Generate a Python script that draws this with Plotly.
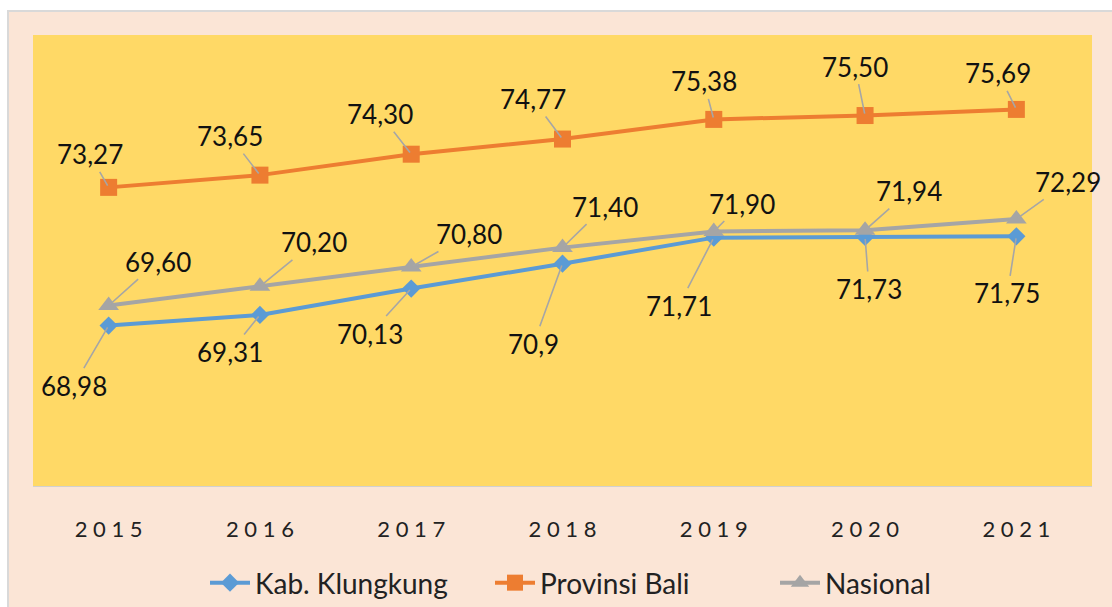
import plotly.graph_objects as go

years = ["2015", "2016", "2017", "2018", "2019", "2020", "2021"]
klungkung = [68.98, 69.31, 70.13, 70.9, 71.71, 71.73, 71.75]
bali = [73.27, 73.65, 74.30, 74.77, 75.38, 75.50, 75.69]
nasional = [69.60, 70.20, 70.80, 71.40, 71.90, 71.94, 72.29]

klungkung_labels = ["68,98", "69,31", "70,13", "70,9", "71,71", "71,73", "71,75"]
bali_labels = ["73,27", "73,65", "74,30", "74,77", "75,38", "75,50", "75,69"]
nasional_labels = ["69,60", "70,20", "70,80", "71,40", "71,90", "71,94", "72,29"]

# label offsets (pixels) from points
klungkung_off = [(-35, 60), (-30, 37), (-41, 45), (-29, 80), (-35, 68), (4, 52), (-9, 57)]
bali_off = [(-19, -33), (-30, -39), (-31, -40), (-30, -40), (-10, -38), (-10, -49), (-18, -36)]
nasional_off = [(49, -44), (54, -44), (58, -33), (42, -41), (28, -28), (44, -39), (52, -37)]

FONT = "Lato"
BLUE = "#5B9BD5"
ORANGE = "#ED7D31"
GRAY = "#A5A5A5"

fig = go.Figure()
fig.add_trace(go.Scatter(x=years, y=klungkung, name="Kab. Klungkung", mode="lines+markers",
                         line=dict(color=BLUE, width=4),
                         marker=dict(symbol="diamond", size=14, color=BLUE)))
fig.add_trace(go.Scatter(x=years, y=bali, name="Provinsi Bali", mode="lines+markers",
                         line=dict(color=ORANGE, width=4),
                         marker=dict(symbol="square", size=17, color=ORANGE)))
fig.add_trace(go.Scatter(x=years, y=nasional, name="Nasional", mode="lines+markers",
                         line=dict(color=GRAY, width=4),
                         marker=dict(symbol="triangle-up", size=18, color=GRAY)))

for vals, labs, offs in [(klungkung, klungkung_labels, klungkung_off),
                         (bali, bali_labels, bali_off),
                         (nasional, nasional_labels, nasional_off)]:
    for i, (v, t, (dx, dy)) in enumerate(zip(vals, labs, offs)):
        fig.add_annotation(x=i, y=v, xref="x", yref="y", text=t, showarrow=True,
                           arrowhead=0, arrowwidth=1.6, arrowcolor="#A6A6A6",
                           ax=dx, ay=dy, standoff=2,
                           font=dict(family=FONT, size=26, color="#111111"))

fig.add_shape(type="rect", xref="paper", yref="paper", x0=-0.0236, x1=1.1, y0=-0.5, y1=1.0532,
              fillcolor="#FBE5D6", line=dict(color="#D9D9D9", width=2), layer="below")
fig.add_shape(type="rect", xref="paper", yref="paper", x0=0, x1=1, y0=0, y1=1,
              fillcolor="#FFD966", line=dict(width=0), layer="below")

fig.update_layout(
    width=1112, height=607,
    margin=dict(l=33, r=20, t=35, b=121, autoexpand=False),
    paper_bgcolor="white", plot_bgcolor="#FFD966",
    showlegend=True,
    legend=dict(orientation="h", x=(205 - 33) / 1059, xanchor="left", y=-0.215, yanchor="middle",
                font=dict(family=FONT, size=28, color="#222222"), bgcolor="rgba(0,0,0,0)",
                itemwidth=40, entrywidth=230),
    xaxis=dict(type="category", range=[-0.5, 6.5], tickmode="array", tickvals=years,
               ticktext=[" ".join(y) for y in years], showgrid=False, zeroline=False,
               ticks="", ticklabelstandoff=24,
               showline=True, linecolor="#D0D0D0", linewidth=1,
               tickfont=dict(family=FONT, size=22, color="#222222")),
    yaxis=dict(range=[64, 78], showgrid=False, zeroline=False, showticklabels=False,
               ticks="", showline=False),
)

fig.write_html("out.html", config={"displayModeBar": False},
               post_script="document.body.style.margin='0';")
